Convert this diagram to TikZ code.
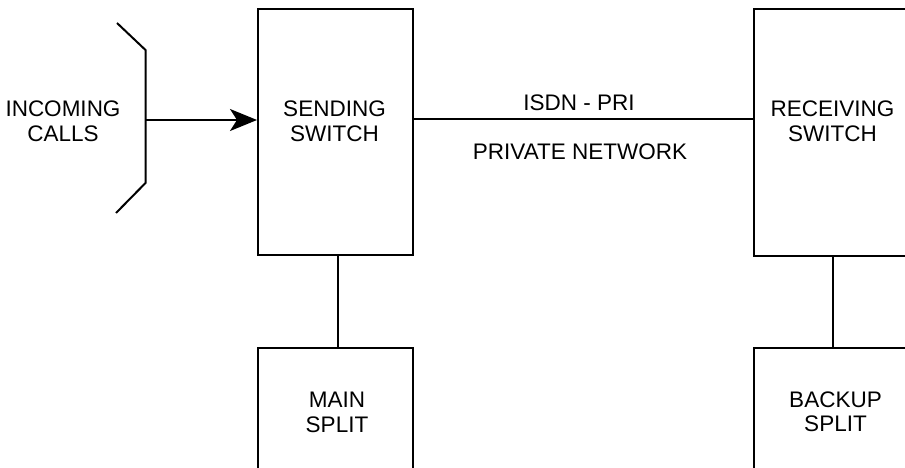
\documentclass[tikz,border=0pt]{standalone}
\usepackage{fontspec}
\setmainfont{Liberation Sans}
\usepackage{tikz}
\usetikzlibrary{arrows.meta,positioning,calc}

\begin{document}
\begin{tikzpicture}[
  x=1pt, y=-1pt,
  box/.style={rectangle, draw, line width=2pt, minimum width=154.5pt, inner sep=0pt},
  lbl/.style={align=center, inner sep=0pt, font=\fontsize{22.5}{24.5}\selectfont},
  arr/.style={-{Stealth[length=27pt, width=22pt, inset=7pt]}, line width=2pt},
  conn/.style={line width=2pt}
]
\useasboundingbox (0,0) rectangle (905,468);
\clip (0,0) rectangle (905,468);

% Left: incoming calls
\node[lbl] (calls) at (63,121.5) {INCOMING\\CALLS};
\draw[conn] (117,23) -- (145.5,50) -- (145.5,183) -- (116,213);
\coordinate (callsin) at (145.5,120);

% Switches
\node[box, minimum height=245.5pt] (sending) at (335.25,132.25) {};
\node[lbl] (sendtxt) at (334.5,121.5) {SENDING\\SWITCH};
\node[box, minimum height=246.5pt, minimum width=155pt] (receiving) at (831.8,132.75) {};
\node[lbl] (recvtxt) at (832.5,121.5) {RECEIVING\\SWITCH};
\draw[arr] (callsin) -- (callsin -| sending.west);

% Link between the switches
\coordinate (linkin) at ($(sending.east)+(0,-12.75)$);
\draw[conn] (linkin) -- (linkin -| receiving.west);
\node[lbl] (isdn) at (579,102.5) {ISDN - PRI};
\node[lbl] (private) at (580,151.5) {PRIVATE NETWORK};

% Splits
\node[box, minimum height=240pt] (mainsplit) at (335.25,468) {};
\node[lbl] (maintxt) at (337,412.5) {MAIN\\SPLIT};
\node[box, minimum height=240pt, minimum width=155pt] (backupsplit) at (831.8,468) {};
\node[lbl] (backuptxt) at (835.5,412) {BACKUP\\SPLIT};
\draw[conn] ([xshift=2.5pt]sending.south) -- ([xshift=2.5pt]sending.south |- mainsplit.north);
\draw[conn] ([xshift=1.5pt]receiving.south) -- ([xshift=1.5pt]receiving.south |- backupsplit.north);

\end{tikzpicture}
\end{document}
